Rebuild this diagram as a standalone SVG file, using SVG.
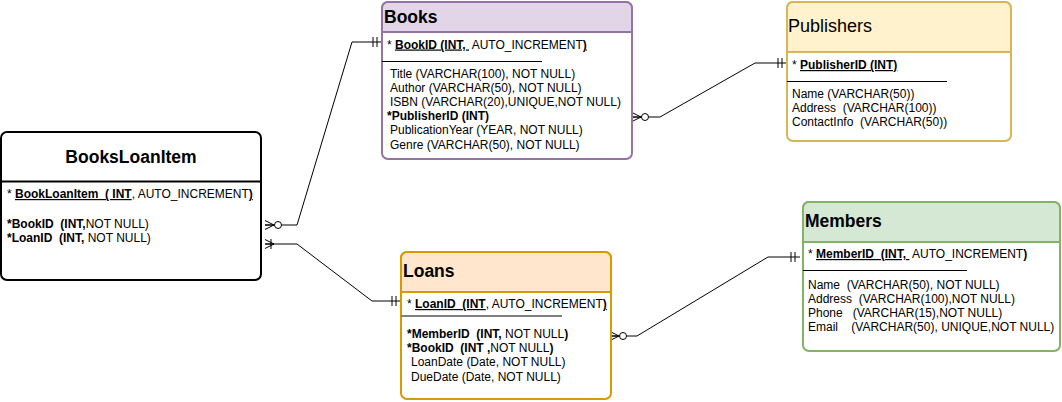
<svg xmlns="http://www.w3.org/2000/svg" width="1062" height="402" viewBox="0 0 1062 402">
  <style>
    text { font-family: "Liberation Sans", Arial, sans-serif; font-size: 12px; fill: #000; white-space: pre; }
    .title { font-size: 17.5px; font-weight: bold; }
    .b { font-weight: bold; }
    .u { text-decoration: underline; }
    .link { fill: none; stroke: #000; stroke-width: 1; }
    .sep { stroke: #000; stroke-width: 1; }
  </style>
  <defs>
    <!-- crow's foot with optional circle: drawn at the path start, +x points away from the entity -->
    <marker id="zeroMany" markerUnits="userSpaceOnUse" viewBox="-1 -6 20 12" refX="0" refY="0" markerWidth="20" markerHeight="12" orient="auto" overflow="visible">
      <path d="M0,-4.5 L9,0 M0,4.5 L9,0 M0,0 L9,0" fill="none" stroke="#000" stroke-width="1"/>
      <circle cx="13" cy="0" r="3.5" fill="#fff" stroke="#000" stroke-width="1"/>
    </marker>
    <marker id="oneMany" markerUnits="userSpaceOnUse" viewBox="-1 -6 20 12" refX="0" refY="0" markerWidth="20" markerHeight="12" orient="auto" overflow="visible">
      <path d="M0,-4.5 L9,0 M0,4.5 L9,0 M0,0 L9,0 M6,-5 L6,5" fill="none" stroke="#000" stroke-width="1"/>
    </marker>
    <!-- mandatory one: two bars just before the path end -->
    <marker id="oneOnly" markerUnits="userSpaceOnUse" viewBox="-20 -6 20 12" refX="0" refY="0" markerWidth="20" markerHeight="12" orient="auto" overflow="visible">
      <path d="M-5,-5 L-5,5 M-9,-5 L-9,5" fill="none" stroke="#000" stroke-width="1"/>
    </marker>
  </defs>

  <!-- relationship lines -->
  <g id="connectors">
    <polyline class="link" points="265,225 297,225 352,42 382,42" marker-start="url(#zeroMany)" marker-end="url(#oneOnly)"/>
    <polyline class="link" points="265,244 297,244 372,301 401,301" marker-start="url(#oneMany)" marker-end="url(#oneOnly)"/>
    <polyline class="link" points="632,117 660,117 755,63 787,63" marker-start="url(#zeroMany)" marker-end="url(#oneOnly)"/>
    <polyline class="link" points="610,336 637,336 768,257 800,257" marker-start="url(#zeroMany)" marker-end="url(#oneOnly)"/>
  </g>

  <!-- BooksLoanItem -->
  <g id="BooksLoanItem">
    <rect x="1" y="132" width="260" height="148" rx="6" fill="#fff" stroke="#000" stroke-width="2"/>
    <line x1="1" y1="181.5" x2="261" y2="181.5" stroke="#000" stroke-width="2"/>
    <text class="title" x="131" y="163" text-anchor="middle">BooksLoanItem</text>
    <text x="7" y="198">* <tspan class="b u">BookLoanItem  ( INT</tspan>, AUTO_INCREMENT<tspan class="b u">)</tspan></text>
    <text x="7" y="228"><tspan class="b">*BookID  (INT,</tspan>NOT NULL)</text>
    <text x="7" y="242"><tspan class="b">*LoanID  (INT,</tspan> NOT NULL)</text>
  </g>

  <!-- Books -->
  <g id="Books">
    <rect x="382" y="2" width="250" height="157" rx="6" fill="#fff" stroke="#9673a6" stroke-width="2"/>
    <path d="M382,32 V8 A6,6 0 0 1 388,2 H626 A6,6 0 0 1 632,8 V32 Z" fill="#e1d5e7" stroke="#9673a6" stroke-width="2"/>
    <text class="title" x="384" y="23">Books</text>
    <text x="387" y="48.5">* <tspan class="b u">BookID (INT, </tspan> AUTO_INCREMENT<tspan class="b u">)</tspan></text>
    <line class="sep" x1="382" y1="61.5" x2="542" y2="61.5"/>
    <text x="390" y="77.5">Title (VARCHAR(100), NOT NULL)</text>
    <text x="390" y="91.7">Author (VARCHAR(50), NOT NULL)</text>
    <text x="390" y="105.9">ISBN (VARCHAR(20),UNIQUE,NOT NULL)</text>
    <text x="387" y="120.1" class="b">*PublisherID (INT)</text>
    <text x="390" y="134.3">PublicationYear (YEAR, NOT NULL)</text>
    <text x="390" y="148.5">Genre (VARCHAR(50), NOT NULL)</text>
  </g>

  <!-- Publishers -->
  <g id="Publishers">
    <rect x="787" y="2" width="224" height="139" rx="6" fill="#fff" stroke="#d6b656" stroke-width="2"/>
    <path d="M787,52 V8 A6,6 0 0 1 793,2 H1005 A6,6 0 0 1 1011,8 V52 Z" fill="#fff2cc" stroke="#d6b656" stroke-width="2"/>
    <text x="788" y="31.5" style="font-size:18px">Publishers</text>
    <text x="792" y="69">* <tspan class="b u">PublisherID (INT)</tspan></text>
    <line class="sep" x1="787" y1="81.5" x2="947" y2="81.5"/>
    <text x="792" y="97.5">Name (VARCHAR(50))</text>
    <text x="792" y="111.7">Address  (VARCHAR(100))</text>
    <text x="792" y="125.9">ContactInfo  (VARCHAR(50))</text>
  </g>

  <!-- Loans -->
  <g id="Loans">
    <rect x="401" y="252" width="210" height="147" rx="6" fill="#fff" stroke="#d79b00" stroke-width="2"/>
    <path d="M401,292 V258 A6,6 0 0 1 407,252 H605 A6,6 0 0 1 611,258 V292 Z" fill="#ffe6cc" stroke="#d79b00" stroke-width="2"/>
    <text class="title" x="403" y="276.5">Loans</text>
    <text x="407" y="308">* <tspan class="b u">LoanID  (INT</tspan>, AUTO_INCREMENT<tspan class="b u">)</tspan></text>
    <line x1="401" y1="316" x2="562" y2="316" stroke="#808080" stroke-width="2"/>
    <text x="407" y="338"><tspan class="b">*MemberID  (INT,</tspan> NOT NULL<tspan class="b">)</tspan></text>
    <text x="407" y="352.2"><tspan class="b">*BookID  (INT ,</tspan>NOT NULL<tspan class="b">)</tspan></text>
    <text x="411" y="366.4">LoanDate (Date, NOT NULL)</text>
    <text x="411" y="380.6">DueDate (Date, NOT NULL)</text>
  </g>

  <!-- Members -->
  <g id="Members">
    <rect x="803" y="202" width="257" height="149" rx="6" fill="#fff" stroke="#82b366" stroke-width="2"/>
    <path d="M803,242 V208 A6,6 0 0 1 809,202 H1054 A6,6 0 0 1 1060,208 V242 Z" fill="#d5e8d4" stroke="#82b366" stroke-width="2"/>
    <text class="title" x="805" y="226.5">Members</text>
    <text x="808" y="258">* <tspan class="b u">MemberID  (INT, </tspan> AUTO_INCREMENT<tspan class="b">)</tspan></text>
    <line class="sep" x1="803" y1="270.5" x2="967" y2="270.5"/>
    <text x="808" y="288.5">Name  (VARCHAR(50), NOT NULL)</text>
    <text x="808" y="302.5">Address  (VARCHAR(100),NOT NULL)</text>
    <text x="808" y="316.5">Phone   (VARCHAR(15),NOT NULL)</text>
    <text x="808" y="330.5">Email    (VARCHAR(50), UNIQUE,NOT NULL)</text>
  </g>
</svg>
